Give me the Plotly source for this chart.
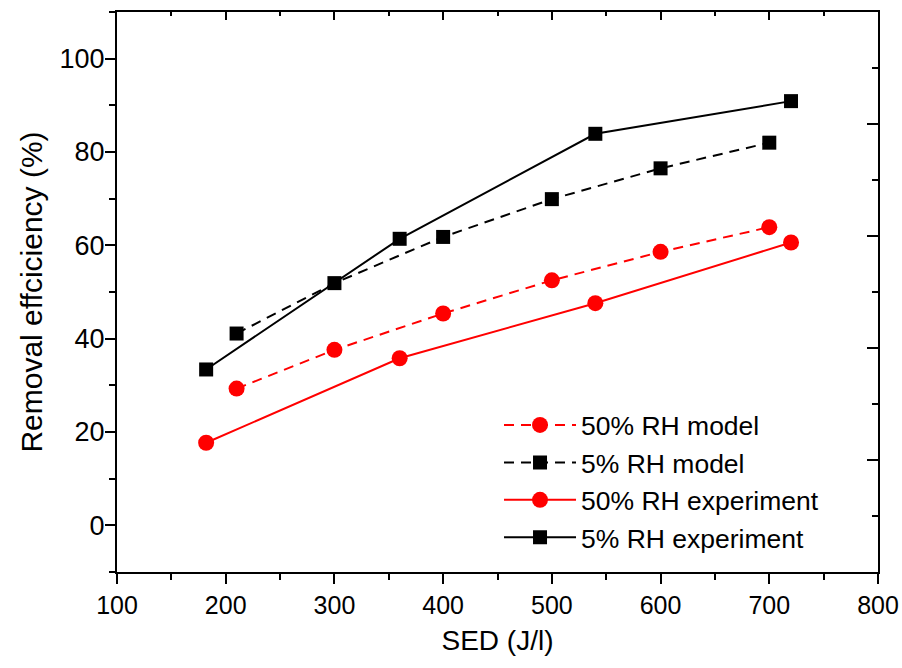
import plotly.graph_objects as go

# Data
model_x = [210, 300, 400, 500, 600, 700]
rh50_model = [29.3, 37.6, 45.4, 52.5, 58.6, 63.9]
rh5_model = [41.1, 51.9, 61.8, 69.9, 76.5, 82.0]

exp_x = [182, 360, 540, 720]
rh50_exp = [17.7, 35.8, 47.6, 60.6]
rh5_exp = [33.4, 61.4, 83.9, 90.9]

x_ticks = [100, 200, 300, 400, 500, 600, 700, 800]
y_ticks = [0, 20, 40, 60, 80, 100]

RED = "#ff0000"
BLK = "#000000"
FONT = "Arial, Liberation Sans, sans-serif"

fig = go.Figure()
fig.add_trace(go.Scatter(x=model_x, y=rh50_model, name="50% RH model", mode="lines+markers",
                         line=dict(color=RED, width=2, dash="10px,7px"),
                         marker=dict(symbol="circle", size=16, color=RED)))
fig.add_trace(go.Scatter(x=model_x, y=rh5_model, name="5% RH model", mode="lines+markers",
                         line=dict(color=BLK, width=2, dash="10px,7px"),
                         marker=dict(symbol="square", size=14, color=BLK)))
fig.add_trace(go.Scatter(x=exp_x, y=rh50_exp, name="50% RH experiment", mode="lines+markers",
                         line=dict(color=RED, width=2),
                         marker=dict(symbol="circle", size=16, color=RED)))
fig.add_trace(go.Scatter(x=exp_x, y=rh5_exp, name="5% RH experiment", mode="lines+markers",
                         line=dict(color=BLK, width=2),
                         marker=dict(symbol="square", size=14, color=BLK)))
# empty trace to activate the mirror (top/right) axes
fig.add_trace(go.Scatter(x=[None], y=[None], xaxis="x2", yaxis="y2", showlegend=False, hoverinfo="skip"))

fig.update_layout(
    width=902, height=668, autosize=False,
    margin=dict(l=117, r=24, t=12, b=96),
    plot_bgcolor="white", paper_bgcolor="white",
    font=dict(family=FONT, color="black"),
    showlegend=True,
    legend=dict(x=0.502, y=0.305, xanchor="left", yanchor="top",
                bgcolor="rgba(0,0,0,0)", font=dict(size=26.5, family=FONT),
                itemwidth=72, tracegroupgap=0),
    xaxis=dict(range=[100, 800], tickvals=x_ticks, ticks="outside", ticklen=10, tickwidth=2,
               tickcolor="black", showline=True, linewidth=2, linecolor="black", showgrid=False,
               zeroline=False, tickfont=dict(size=25, family=FONT), automargin=False,
               minor=dict(dtick=50, tick0=100, ticks="outside", ticklen=6, tickwidth=2, tickcolor="black"),
               title=dict(text="SED (J/l)", font=dict(size=28, family=FONT), standoff=12)),
    yaxis=dict(range=[-10, 110], tickvals=y_ticks, ticks="outside", ticklen=10, tickwidth=2,
               tickcolor="black", showline=True, linewidth=2, linecolor="black", showgrid=False,
               zeroline=False, tickfont=dict(size=27, family=FONT), ticklabelstandoff=-5,
               automargin=False,
               minor=dict(dtick=10, tick0=0, ticks="outside", ticklen=6, tickwidth=2, tickcolor="black"),
               title=dict(text="Removal effciciency (%)", font=dict(size=30, family=FONT), standoff=8)),
    xaxis2=dict(overlaying="x", side="top", range=[100, 800], dtick=100, tick0=100,
                ticks="inside", ticklen=8, tickwidth=2, tickcolor="black", showticklabels=False,
                showline=True, linewidth=2, linecolor="black", showgrid=False, zeroline=False,
                automargin=False,
                minor=dict(dtick=50, tick0=100, ticks="inside", ticklen=4, tickwidth=2, tickcolor="black")),
    yaxis2=dict(overlaying="y", side="right", range=[0, 10], dtick=2, tick0=0,
                ticks="inside", ticklen=11, tickwidth=2, tickcolor="black", showticklabels=False,
                showline=True, linewidth=2, linecolor="black", showgrid=False, zeroline=False,
                automargin=False,
                minor=dict(dtick=1, tick0=0, ticks="inside", ticklen=6, tickwidth=2, tickcolor="black")),
)

fig.write_html(
    "out.html",
    config={"responsive": False, "displayModeBar": False},
    post_script="document.body.style.margin='0';document.documentElement.style.overflow='hidden';",
)
